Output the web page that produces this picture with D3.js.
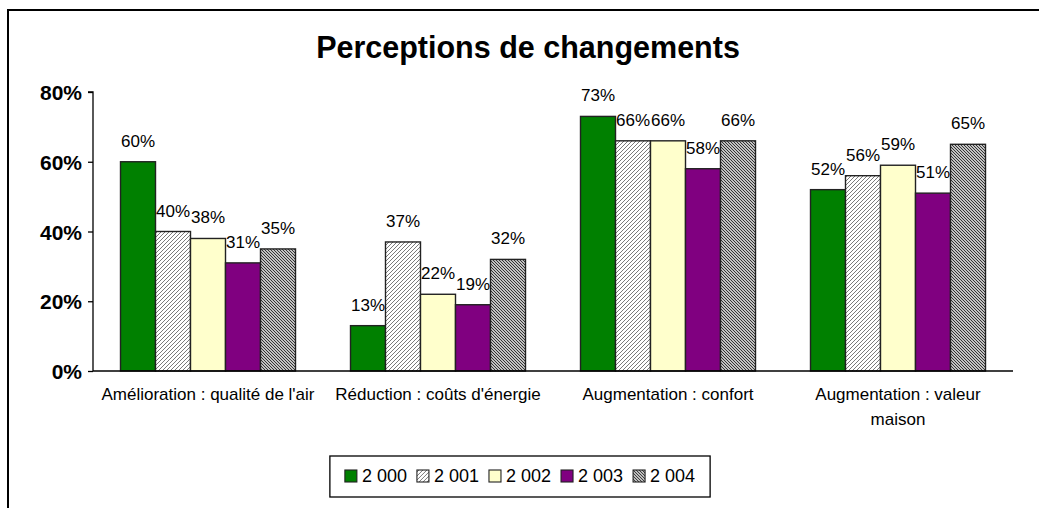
<!DOCTYPE html>
<html>
<head>
<meta charset="utf-8">
<script src="https://cdn.jsdelivr.net/npm/d3@7"></script>
<style>
  body { margin: 0; background: #fff; }
  text { font-family: Arial, "Liberation Sans", sans-serif; fill: #000; }
</style>
</head>
<body>
<svg width="1039" height="508"></svg>
<script>
// data
var categories = ["Amélioration : qualité de l'air", "Réduction : coûts d'énergie",
                  "Augmentation : confort", "Augmentation : valeur maison"];
var years = ["2 000", "2 001", "2 002", "2 003", "2 004"];
var v2000 = [0.60, 0.13, 0.73, 0.52];
var v2001 = [0.40, 0.37, 0.66, 0.56];
var v2002 = [0.38, 0.22, 0.66, 0.59];
var v2003 = [0.31, 0.19, 0.58, 0.51];
var v2004 = [0.35, 0.32, 0.66, 0.65];
var yTicks = [0, 0.2, 0.4, 0.6, 0.8];

var seriesValues = [v2000, v2001, v2002, v2003, v2004];
var fills = ["#008000", "url(#hatch1)", "#ffffcc", "#800080", "url(#hatch2)"];

var svg = d3.select("svg");

// hatch patterns for 2 001 and 2 004
var defs = svg.append("defs");
var p1 = defs.append("pattern").attr("id", "hatch1")
    .attr("patternUnits", "userSpaceOnUse").attr("width", 4).attr("height", 4);
p1.append("rect").attr("width", 4).attr("height", 4).attr("fill", "#fff");
p1.append("path").attr("d", "M-1,1 l2,-2 M0,4 l4,-4 M3,5 l2,-2")
    .attr("stroke", "#7a7a7a").attr("stroke-width", 1);
var p2 = defs.append("pattern").attr("id", "hatch2")
    .attr("patternUnits", "userSpaceOnUse").attr("width", 3).attr("height", 3);
p2.append("rect").attr("width", 3).attr("height", 3).attr("fill", "#fff");
p2.append("path").attr("d", "M-1,-1 l5,5 M-1,2 l2,2 M2,-1 l2,2")
    .attr("stroke", "#2a2a2a").attr("stroke-width", 1.1);

// outer frame (runs off the window on the right and bottom)
svg.append("rect").attr("x", 8).attr("y", 10).attr("width", 1100).attr("height", 600)
    .attr("fill", "none").attr("stroke", "#000").attr("stroke-width", 2);

// title
svg.append("text").attr("x", 528).attr("y", 58).attr("text-anchor", "middle")
    .style("font-size", "30.5px").style("font-weight", "bold")
    .text("Perceptions de changements");

// scales
var x0 = d3.scaleBand().domain(categories).range([93, 1013]);
var x1 = d3.scaleBand().domain(years).range([27.5, x0.bandwidth() - 27.5]);
var y = d3.scaleLinear().domain([0, 0.8]).range([371, 92]);

// y axis
var yAxis = svg.append("g").attr("transform", "translate(93,0)")
    .call(d3.axisLeft(y).tickValues(yTicks).tickSize(5).tickPadding(6)
        .tickFormat(d3.format(".0%")));
yAxis.select(".domain").attr("stroke", "#000").attr("stroke-width", 1.3)
    .attr("d", "M-5," + y(0.8) + "H0V" + y(0));
yAxis.selectAll(".tick line").attr("stroke", "#000").attr("stroke-width", 1.3);
yAxis.selectAll(".tick text").style("font-size", "21px").style("font-weight", "bold")
    .attr("dy", "0.36em").attr("fill", "#000");

// bars
var groups = svg.append("g").selectAll("g").data(categories).join("g")
    .attr("transform", function(d) { return "translate(" + x0(d) + ",0)"; });

groups.each(function(c, ci) {
  var g = d3.select(this);
  var rows = years.map(function(yr, si) { return {year: yr, value: seriesValues[si][ci], si: si}; });
  g.selectAll("rect").data(rows).join("rect")
      .attr("x", function(d) { return x1(d.year); })
      .attr("y", function(d) { return y(d.value); })
      .attr("width", x1.bandwidth())
      .attr("height", function(d) { return y(0) - y(d.value); })
      .attr("fill", function(d) { return fills[d.si]; })
      .attr("stroke", "#222").attr("stroke-width", 1.4);
  g.selectAll("text").data(rows).join("text")
      .attr("x", function(d) { return x1(d.year) + x1.bandwidth() / 2; })
      .attr("y", function(d) { return y(d.value) - 15; })
      .attr("text-anchor", "middle")
      .style("font-size", "17px")
      .text(function(d) { return Math.round(d.value * 100) + "%"; });
});

// x axis baseline
svg.append("line").attr("x1", 93).attr("x2", 1013).attr("y1", y(0)).attr("y2", y(0))
    .attr("stroke", "#000").attr("stroke-width", 1.3);

// category labels, wrapped like the original
svg.append("g").selectAll("text").data(categories).join("text")
    .attr("x", function(d) { return x0(d) + x0.bandwidth() / 2; })
    .attr("y", 400)
    .attr("text-anchor", "middle")
    .style("font-size", "17px")
    .each(function(d) {
      var t = d3.select(this);
      var words = d.split(" "), lines;
      t.text(d);
      if (this.getComputedTextLength() > x0.bandwidth() - 8) {
        // break before the last word
        lines = [words.slice(0, -1).join(" "), words[words.length - 1]];
      } else {
        lines = [d];
      }
      t.text(null);
      lines.forEach(function(l, i) {
        t.append("tspan").attr("x", t.attr("x")).attr("dy", i ? 25 : 0).text(l);
      });
    });

// legend
var legend = svg.append("g");
var lx = 0;
var items = legend.selectAll("g").data(years).join("g");
items.append("rect").attr("width", 12).attr("height", 12).attr("y", -6)
    .attr("fill", function(d, i) { return fills[i]; })
    .attr("stroke", "#222").attr("stroke-width", 1.1);
items.append("text").attr("x", 17).attr("dy", "0.36em").style("font-size", "18px")
    .text(function(d) { return d; });
items.each(function() {
  var w = this.getBBox().width;
  d3.select(this).attr("transform", "translate(" + lx + ",0)");
  lx += w + 10;
});
var legW = lx - 10 + 30;
var legLeft = 520 - legW / 2;
legend.attr("transform", "translate(" + (legLeft + 15) + ",476)");
svg.insert("rect", "g").attr("x", legLeft).attr("y", 456).attr("width", legW).attr("height", 41)
    .attr("fill", "#fff").attr("stroke", "#000").attr("stroke-width", 1.3);
</script>
</body>
</html>
